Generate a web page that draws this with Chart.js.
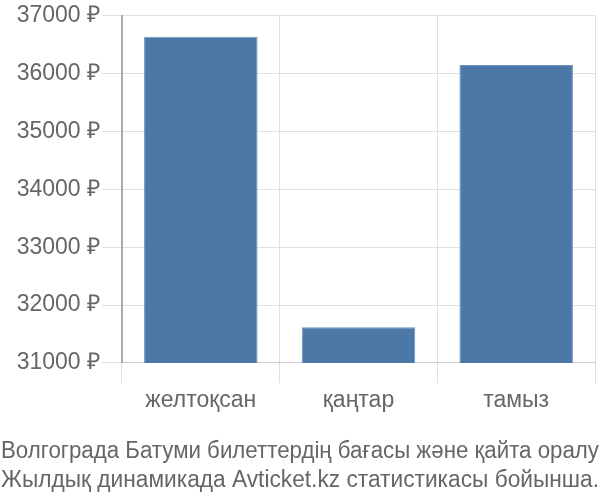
<!DOCTYPE html>
<html lang="kk">
<head>
    <meta charset="UTF-8">
    <title>Волгоград Батуми</title>
    <script src="https://cdn.jsdelivr.net/npm/chart.js"></script>
    <style>
        html, body { margin: 0; padding: 0; background: #fff; }
        #wrap { width: 600px; height: 500px; }
    </style>
</head>
<body>
    <div id="wrap"><canvas id="priceChart"></canvas></div>
    <script>
        const months = ['желтоқсан', 'қаңтар', 'тамыз'];
        const prices = [36640, 31615, 36150];
        const titleLines = [
            'Волгограда Батуми билеттердің бағасы және қайта оралу',
            'Жылдық динамикада Avticket.kz статистикасы бойынша.'
        ];
        const yMin = 31000, yMax = 37000, yStep = 1000;

        const fontFamily = 'Liberation Sans, Arial, sans-serif';
        const ctx = document.getElementById('priceChart').getContext('2d');
        new Chart(ctx, {
            type: 'bar',
            data: {
                labels: months,
                datasets: [{
                    data: prices,
                    backgroundColor: '#4c78a8',
                    borderColor: '#6f93bd',
                    borderWidth: 1,
                    categoryPercentage: 0.8,
                    barPercentage: 0.9
                }]
            },
            options: {
                responsive: true,
                maintainAspectRatio: false,
                animation: false,
                layout: { padding: { top: 0, left: 1, right: 1, bottom: 0 } },
                plugins: {
                    legend: { display: false },
                    tooltip: { enabled: false },
                    title: {
                        display: true,
                        position: 'bottom',
                        text: titleLines,
                        color: '#666',
                        font: { family: fontFamily, size: 23, weight: 'normal', lineHeight: 1.25 },
                        padding: { top: 19, bottom: 5 }
                    }
                },
                scales: {
                    x: {
                        grid: { color: '#e0e0e0', tickLength: 20, offset: true },
                        border: { color: '#cccccc' },
                        ticks: {
                            color: '#666',
                            padding: 4,
                            font: { family: fontFamily, size: 23 }
                        },
                        // keep the plot's right edge off the canvas edge
                        afterFit: s => { s.paddingRight = 5; }
                    },
                    y: {
                        min: yMin,
                        max: yMax,
                        grid: { color: '#e0e0e0', tickLength: 20 },
                        border: { color: '#aaaaaa', width: 2 },
                        ticks: {
                            stepSize: yStep,
                            color: '#666',
                            padding: 2,
                            font: { family: fontFamily, size: 23 },
                            callback: v => v + ' ₽'
                        },
                        afterFit: s => { s.width = 121; }
                    }
                }
            }
        });
    </script>
</body>
</html>
